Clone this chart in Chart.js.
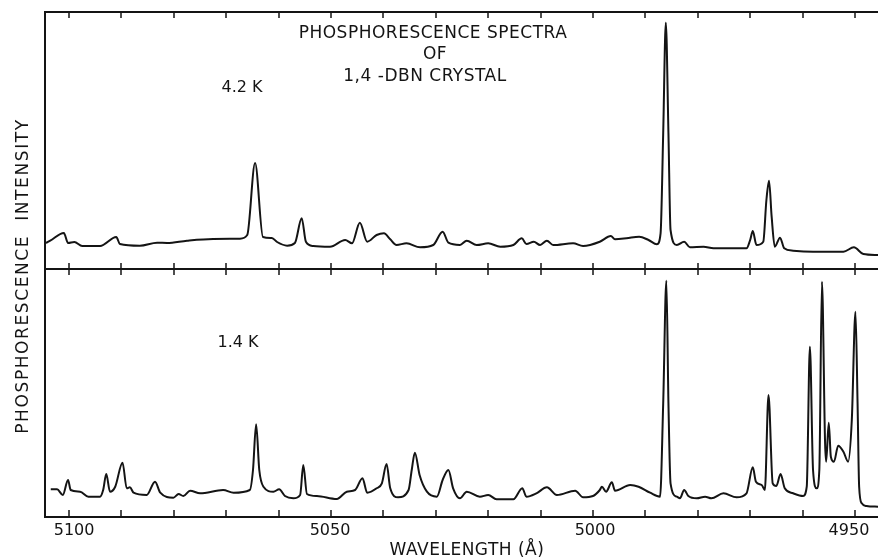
<!DOCTYPE html>
<html>
<head>
<meta charset="utf-8">
<script src="https://cdn.jsdelivr.net/npm/chart.js@4/dist/chart.umd.min.js"></script>
<style>
  html, body { margin: 0; padding: 0; background: #fff; overflow: hidden; }
  #wrap { width: 878px; height: 558px; position: relative; }
  #spectra { display: block; }
</style>
</head>
<body>
<div id="wrap"><canvas id="spectra"></canvas></div>
<script>
// wavelength (Å) and intensity (arb. units), 4.2 K
const wl42 = [5104.4, 5103.6, 5101.0, 5100.2, 5099.0, 5097.5, 5094.1, 5091.0, 5090.3, 5086.5,
  5083.2, 5081.3, 5077.5, 5072.5, 5067.4, 5066.0, 5064.5, 5063.0, 5061.3, 5060.3,
  5058.4, 5056.9, 5055.6, 5054.8, 5053.4, 5050.2, 5047.3, 5046.0, 5044.5, 5043.1,
  5041.3, 5039.9, 5038.7, 5037.5, 5035.6, 5033.0, 5030.5, 5028.7, 5027.6, 5025.4,
  5024.1, 5022.2, 5020.0, 5017.7, 5015.2, 5013.6, 5012.7, 5011.3, 5010.1, 5008.8,
  5007.6, 5003.8, 5001.9, 4998.7, 4996.6, 4995.8, 4993.6, 4991.2, 4989.4, 4987.8,
  4987.1, 4986.6, 4986.1, 4985.6, 4985.2, 4984.0, 4982.6, 4981.5, 4978.9, 4977.0,
  4970.7, 4970.0, 4969.5, 4968.8, 4967.5, 4966.9, 4966.4, 4965.9, 4965.3, 4964.3,
  4963.5, 4961.8, 4958.0, 4952.2, 4950.2, 4948.4, 4945.6];
const int42 = [26, 28.3, 36, 26, 27, 23, 23, 32, 25, 23.3,
  26.3, 26, 28.3, 30, 30.3, 34, 106, 32, 31, 27,
  23.3, 26, 50.7, 27.3, 23, 22.3, 29, 25.7, 46.3, 27.3,
  34, 35.7, 29.7, 24, 25.7, 21.7, 24, 37.3, 26.3, 24,
  28.3, 24, 25.7, 22.3, 24, 30.7, 25, 27.3, 24, 28.3,
  24, 25.7, 23, 27.3, 33, 29.7, 30.7, 32.3, 29, 24.7,
  35.7, 136, 246.3, 136, 39, 24, 27.3, 21.7, 22.3, 20.7,
  20.7, 29, 38, 24, 27.3, 69, 88.3, 52.3, 22.3, 31.3,
  20.7, 18.3, 17.3, 17.3, 21.7, 15, 14];

// 1.4 K
const wl14 = [5103.5, 5102.3, 5101.2, 5100.2, 5099.7, 5097.9, 5096.3, 5094.1, 5093.5, 5092.9,
  5092.2, 5091.2, 5089.8, 5089.0, 5088.4, 5087.7, 5085.2, 5083.6, 5082.6, 5080.1,
  5079.1, 5078.2, 5076.9, 5075.0, 5070.6, 5068.6, 5065.5, 5064.9, 5064.3, 5063.7,
  5062.9, 5061.0, 5059.9, 5058.8, 5057.2, 5055.9, 5055.3, 5054.6, 5052.7, 5048.9,
  5047.0, 5045.4, 5044.0, 5043.1, 5041.3, 5040.3, 5039.4, 5038.7, 5037.2, 5035.2,
  5034.6, 5034.0, 5033.1, 5031.7, 5029.8, 5028.7, 5027.6, 5026.7, 5025.4, 5024.1,
  5021.6, 5020.0, 5018.4, 5015.2, 5013.5, 5012.7, 5010.8, 5008.8, 5006.9, 5003.4,
  5001.9, 5000.0, 4998.7, 4998.3, 4997.5, 4996.4, 4995.8, 4992.9, 4991.3, 4989.1,
  4987.2, 4986.6, 4986.0, 4985.6, 4985.2, 4984.0, 4983.4, 4982.6, 4981.8, 4980.2,
  4978.6, 4977.4, 4975.1, 4972.6, 4970.7, 4969.5, 4968.9, 4967.8, 4967.2, 4966.5,
  4965.7, 4965.0, 4964.2, 4963.4, 4961.8, 4959.9, 4959.2, 4958.6, 4958.0, 4957.3,
  4956.8, 4956.3, 4955.7, 4955.5, 4955.0, 4954.6, 4954.0, 4953.2, 4952.2, 4951.3,
  4950.6, 4949.9, 4949.5, 4949.2, 4948.7, 4947.8, 4945.6];
const int14 = [27.7, 27.7, 22, 37, 27, 25.3, 20.3, 20.3, 27, 43,
  25.3, 30.3, 54.3, 28.7, 29.7, 24.3, 22, 35.3, 24.3, 19.3,
  23, 21, 26.3, 23.7, 27, 24.3, 27, 47, 92.7, 47,
  30.3, 25.3, 27.7, 21, 18.7, 22, 52, 23, 21, 18,
  25.3, 27, 38.7, 24.3, 28.7, 33.7, 53, 28.7, 19.7, 27,
  47, 64.3, 42, 25.3, 20.3, 37, 47, 28.7, 18.7, 25.3,
  20.3, 22, 17.7, 17.7, 28.7, 20.3, 23.7, 29.7, 22, 26.3,
  19.7, 21, 27, 30.3, 25.3, 34.7, 26.3, 32, 30.3, 24.3,
  20.3, 113.7, 236.3, 114, 33.7, 20.3, 18.7, 27, 21, 18.7,
  20.3, 18.7, 23.7, 19.7, 23.7, 49.7, 35.3, 32, 27, 122,
  33.7, 31, 43, 28.7, 23.7, 21, 30.3, 170.3, 47, 28.7,
  47, 235.3, 73.7, 55.3, 94.3, 60.3, 55.3, 71.3, 65.3, 55.3,
  97, 205.3, 113.7, 30.3, 13.7, 11, 10.3];

const xLabels = [5100, 5050, 5000, 4950];
const minorTicks = [5100, 5090, 5080, 5070, 5060, 5050, 5040, 5030, 5020, 5010,
  5000, 4990, 4980, 4970, 4960, 4950];

const FONT = "'DejaVu Sans', sans-serif";
const INK = '#141414';
// hand-lettered labels sit a little off their ticks
const labelNudge = { 5100: 5, 5050: -1, 5000: 2, 4950: -6 };

const toPoints = (xs, ys) => xs.map((x, i) => ({ x: x, y: ys[i] }));

// frame, tick marks and all lettering, placed from the chart's own scales
const frame = {
  id: 'frame',
  afterDatasetsDraw(chart) {
    const { ctx, chartArea: a, scales } = chart;
    const xs = scales.x;
    const midY = scales.yTop.getPixelForValue(0);
    ctx.save();
    ctx.strokeStyle = INK;
    ctx.lineWidth = 2;
    ctx.beginPath();
    ctx.moveTo(a.left, a.top); ctx.lineTo(a.right, a.top);
    ctx.moveTo(a.left, midY); ctx.lineTo(a.right, midY);
    ctx.moveTo(a.left, a.bottom); ctx.lineTo(a.right, a.bottom);
    ctx.moveTo(a.left, a.top - 1); ctx.lineTo(a.left, a.bottom + 1);
    ctx.stroke();

    ctx.lineWidth = 1.5;
    ctx.beginPath();
    minorTicks.forEach(v => {
      const px = Math.round(xs.getPixelForValue(v));
      ctx.moveTo(px, a.top); ctx.lineTo(px, a.top + 6);
      ctx.moveTo(px, midY - 6); ctx.lineTo(px, midY + 6);
      ctx.moveTo(px, a.bottom); ctx.lineTo(px, a.bottom - 7);
    });
    ctx.stroke();

    ctx.fillStyle = INK;
    ctx.textAlign = 'center';
    ctx.textBaseline = 'middle';

    ctx.font = '16px ' + FONT;
    xLabels.forEach(v => {
      ctx.fillText(String(v), xs.getPixelForValue(v) + labelNudge[v], a.bottom + 14);
    });

    ctx.font = '17px ' + FONT;
    ctx.letterSpacing = '0.5px';
    ctx.fillText('WAVELENGTH (Å)', 467, a.bottom + 34);
    ctx.fillText('PHOSPHORESCENCE SPECTRA', 433, 34);
    ctx.fillText('OF', 435, 55);
    ctx.fillText('1,4 -DBN CRYSTAL', 425, 77);

    ctx.font = '16px ' + FONT;
    ctx.letterSpacing = '0px';
    ctx.fillText('4.2 K', 242, 88);
    ctx.fillText('1.4 K', 238, 343);

    ctx.translate(24, 276);
    ctx.rotate(-Math.PI / 2);
    ctx.font = '17px ' + FONT;
    ctx.letterSpacing = '1.6px';
    ctx.fillText('PHOSPHORESCENCE  INTENSITY', 0, 0);
    ctx.restore();
  }
};

new Chart(document.getElementById('spectra'), {
  type: 'line',
  data: {
    datasets: [{
      label: '4.2 K',
      data: toPoints(wl42, int42),
      yAxisID: 'yTop'
    }, {
      label: '1.4 K',
      data: toPoints(wl14, int14),
      yAxisID: 'yBot'
    }]
  },
  options: {
    responsive: true,
    maintainAspectRatio: false,
    animation: false,
    events: [],
    layout: {
      padding: { left: 45, top: 12, right: 0, bottom: 41 }
    },
    elements: {
      line: { borderColor: INK, borderWidth: 2, cubicInterpolationMode: 'monotone' },
      point: { radius: 0 }
    },
    plugins: {
      legend: { display: false },
      tooltip: { enabled: false }
    },
    scales: {
      x: {
        type: 'linear',
        display: false,
        reverse: true,
        min: 4945.6,
        max: 5104.6
      },
      yTop: {
        type: 'linear',
        display: false,
        min: -248,
        max: 257
      },
      yBot: {
        type: 'linear',
        display: false,
        min: 0,
        max: 505
      }
    }
  },
  plugins: [frame]
});
</script>
</body>
</html>
